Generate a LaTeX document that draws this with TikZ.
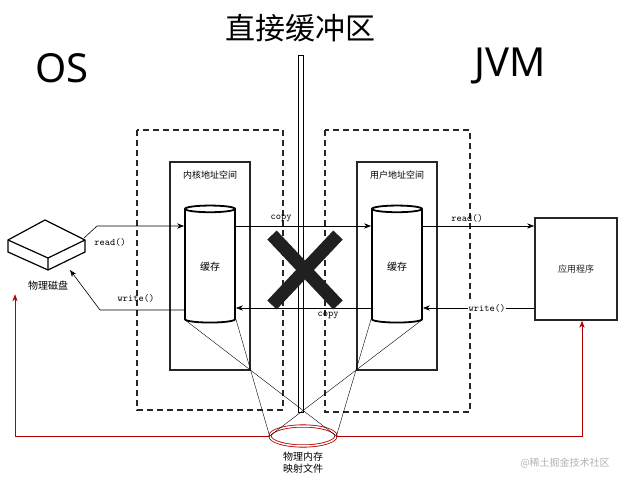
\documentclass[tikz,border=0pt]{standalone}
\usepackage{fontspec}
\setmainfont{Noto Sans}
\newfontfamily\cjk{Noto Sans CJK SC}
\usetikzlibrary{positioning, shapes.geometric, arrows.meta}
\colorlet{memred}{red!70!black}
\begin{document}
\begin{tikzpicture}[x=1pt,y=-1pt,>={Stealth[length=7pt]},semithick]
  \tikzstyle{space}=[draw,dashed,very thick,gray!30!black,dash pattern=on 6pt off 4pt]
  \tikzstyle{area}=[draw,very thick,gray!30!black]
  \tikzstyle{buf}=[cylinder,draw,line width=1.8pt,shape border rotate=90,aspect=0.25,minimum width=50pt,minimum height=117pt,font=\cjk\normalsize]
  \tikzstyle{call}=[font=\ttfamily\normalsize]
  \tikzstyle{lbl}=[font=\cjk\normalsize]
  \useasboundingbox (0,0) rectangle (640,486);

  \node[font=\cjk\fontsize{30}{32}\selectfont] (title) at (300,28) {直接缓冲区};
  \node[font=\fontsize{40}{42}\selectfont] (os) at (62,68) {OS};
  \node[font=\fontsize{40}{42}\selectfont] (jvm) at (510,66) {JVM};

  % boundary
  \draw[thick] (298,55) rectangle (303,412);
  \draw[space] (137,130) rectangle (283,410);
  \draw[space] (325,130) rectangle (470,412);
  \draw[area] (170,162) rectangle (250,370);
  \draw[area] (357,162) rectangle (437,370);
  \node[lbl,font=\cjk\small] (kspace) at (210,175) {内核地址空间};
  \node[lbl,font=\cjk\small] (uspace) at (397,175) {用户地址空间};

  \node[buf] (kbuf) at (210,267) {缓存};
  \node[buf] (ubuf) at (397,267) {缓存};

  % disk
  \draw[very thick,fill=white] (8,240) -- (45,220) -- (85,240) -- (85,252) -- (48,270) -- (8,252) -- cycle;
  \draw[very thick] (8,240) -- (48,258) -- (85,240) (48,258) -- (48,270);
  \node[lbl] (dlabel) at (48,286) {物理磁盘};

  \node[area,line width=1.6pt,minimum width=82pt,minimum height=102pt,font=\cjk\small] (app) at (576,269) {应用程序};

  % calls
  \draw[->] (84,238) -- (97,226) -- (kbuf.west |- 0,226);
  \node[call] (r1) at (110,242) {read()};
  \draw[->] (kbuf.east |- 0,226) -- (ubuf.west |- 0,226);
  \node[call] (c1) at (281,218) {copy};
  \draw[->] (ubuf.east |- 0,226) -- (app.west |- 0,226);
  \node[call] (r2) at (467,218) {read()};
  \draw[->] (app.west |- 0,308) -- (ubuf.east |- 0,308);
  \node[call,fill=white,inner sep=1pt] (w2) at (487,308) {write()};
  \draw[->] (ubuf.west |- 0,308) -- (kbuf.east |- 0,308);
  \node[call] (c2) at (328,315) {copy};
  \draw[->] (kbuf.west |- 0,310) -- (100,310) -- (70,270);
  \node[call] (w1) at (136,298) {write()};

  % blocked
  \draw[line width=13pt,gray!25!black] (272,235) -- (338,305) (338,235) -- (272,305);

  % mapping
  \node[ellipse,draw=memred,thick,minimum width=66pt,minimum height=20pt,double=white,double distance=1.5pt] (mem) at (303,436) {};
  \node[lbl,align=center,below=2pt of mem] (mlabel) {物理内存\\映射文件};
  \draw[thin] (kbuf.before bottom) -- (mem.west);
  \draw[thin] (kbuf.after bottom) -- (mem.east);
  \draw[thin] (ubuf.before bottom) -- (mem.west);
  \draw[thin] (ubuf.after bottom) -- (mem.east);
  \draw[->,memred] (mem.west) -- (15,436) -- (dlabel.south -| 15,0);
  \draw[->,memred] (mem.east) -- (582,436) -- (app.south -| 582,0);

  \node[lbl,gray!60] (mark) at (565,463) {@稀土掘金技术社区};
\end{tikzpicture}
\end{document}
